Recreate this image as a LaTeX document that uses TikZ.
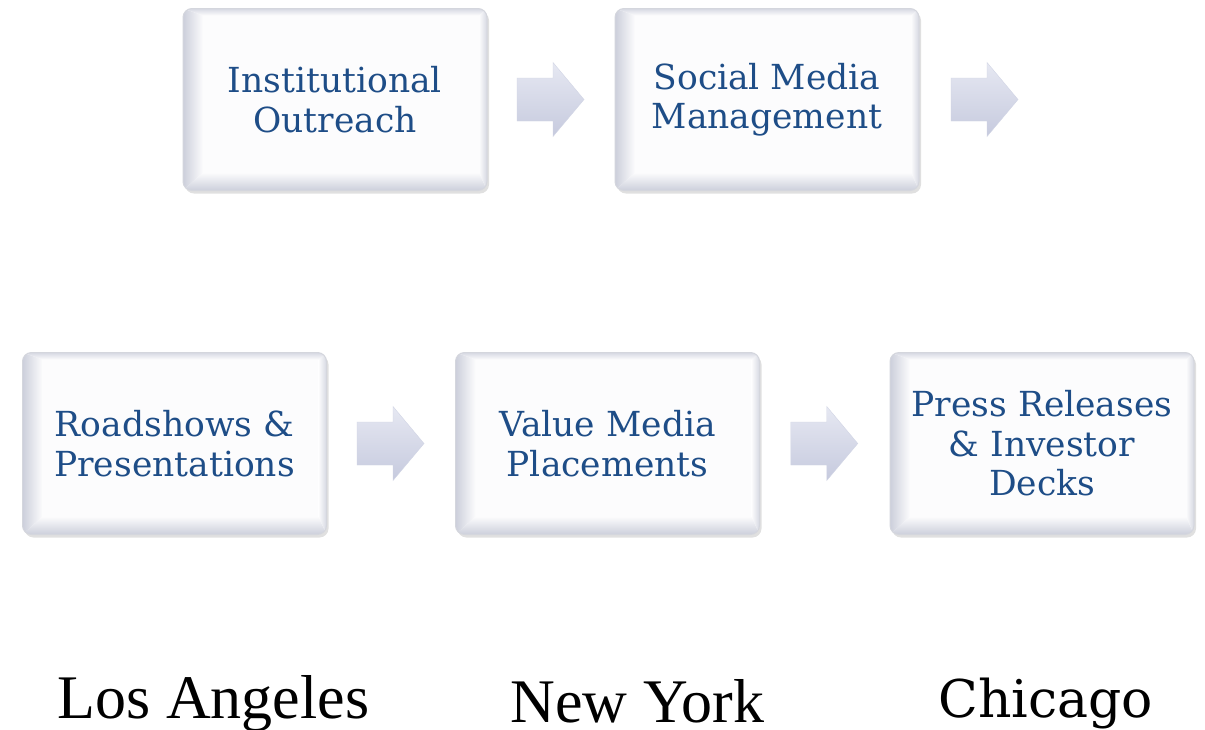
\documentclass[tikz,border=0pt]{standalone}
\usepackage{fontspec}
\setmainfont{Liberation Serif}
\newfontfamily\boxfont{DejaVu Serif}
\usetikzlibrary{calc,shadows}
\definecolor{txtblue}{RGB}{30,77,135}
\definecolor{facecol}{RGB}{252,252,253}
\definecolor{bevgray}{RGB}{204,207,219}
\definecolor{edgecol}{RGB}{212,214,221}
\definecolor{arrowA}{RGB}{230,232,242}
\definecolor{arrowB}{RGB}{198,202,222}
\newcommand\myblockarrow[1]{%
  \shade[top color=arrowA, bottom color=arrowB, draw=arrowB!80!white, line width=0.4pt]
    ($(#1)+(-34,-21.5)$) -- ($(#1)+(2,-21.5)$) -- ($(#1)+(2,-37)$) --
    ($(#1)+(33,0)$) -- ($(#1)+(2,37)$) -- ($(#1)+(2,21.5)$) --
    ($(#1)+(-34,21.5)$) -- cycle;}
\begin{document}
\begin{tikzpicture}[x=1pt,y=-1pt,
  bevelbox/.style={rounded corners=9pt, minimum width=304pt, minimum height=182pt,
    inner sep=0pt, fill=facecol, draw=edgecol, line width=1pt, text=txtblue,
    align=center, font=\boxfont\fontsize{34.5}{39.5}\selectfont,
    drop shadow={shadow xshift=2pt, shadow yshift=-3pt, opacity=0.12, fill=black},
    path picture={
      \path (path picture bounding box.north west) coordinate (pNW)
            (path picture bounding box.north east) coordinate (pNE)
            (path picture bounding box.south west) coordinate (pSW)
            (path picture bounding box.south east) coordinate (pSE);
      \shade[sharp corners, left color=bevgray, right color=facecol]
        (pNW) -- ($(pNW)+(20,7)$) -- ($(pSW)+(20,-18)$) -- (pSW) -- cycle;
      \shade[sharp corners, bottom color=bevgray, top color=facecol]
        (pSW) -- ($(pSW)+(20,-18)$) -- ($(pSE)+(-8,-18)$) -- (pSE) -- cycle;
      \shade[sharp corners, right color=bevgray!80!white, left color=facecol]
        (pSE) -- ($(pSE)+(-8,-18)$) -- ($(pNE)+(-8,7)$) -- (pNE) -- cycle;
      \shade[sharp corners, top color=bevgray!80!white, bottom color=facecol]
        (pNW) -- ($(pNW)+(20,7)$) -- ($(pNE)+(-8,7)$) -- (pNE) -- cycle;
    }},
  city/.style={anchor=base, inner sep=0pt, text=black, font=\fontsize{62}{70}\selectfont}
]
\useasboundingbox (0,0) rectangle (1205,729);
\fill[white] (0,0) rectangle (1205,729);

\node[bevelbox] (b1) at (335,99.5) {Institutional\\Outreach};
\node[bevelbox] (b2) at (767,99.5) {Social Media\\Management};
\node[bevelbox] (b3) at (174.5,443.5) {Roadshows \&\\Presentations};
\node[bevelbox] (b4) at (607.5,443.5) {Value Media\\Placements};
\node[bevelbox] (b5) at (1042,443.5) {Press Releases\\\& Investor\\Decks};

\coordinate (m1) at ($(b1.east)!0.5!(b2.west)$);
\coordinate (m2) at ($(b2.east)+(65.5,0)$);
\coordinate (m3) at ($(b3.east)!0.5!(b4.west)$);
\coordinate (m4) at ($(b4.east)!0.5!(b5.west)$);
\myblockarrow{m1}
\myblockarrow{m2}
\myblockarrow{m3}
\myblockarrow{m4}

\node[city] (la) at (213.5,718) {Los Angeles};
\node[city] (ny) at (637.5,722) {New York};
\node[city, font=\boxfont\fontsize{52}{60}\selectfont] (chi) at (1046,717) {Chicago};
\end{tikzpicture}
\end{document}
